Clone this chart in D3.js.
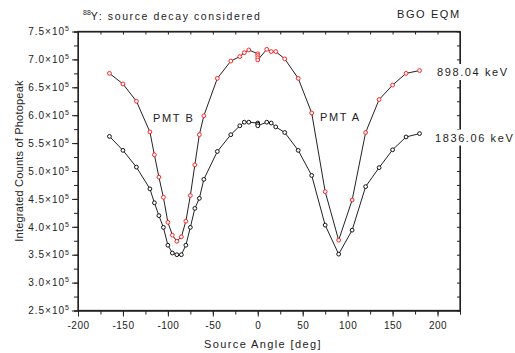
<!DOCTYPE html>
<html>
<head>
<meta charset="utf-8">
<script src="https://cdn.jsdelivr.net/npm/d3@7"></script>
<style>
  body { margin: 0; background: #fff; }
  svg { display: block; font-family: "Liberation Sans", Arial, sans-serif; }
  .axis path, .axis line { stroke: #222; }
  .axis text { fill: #222; }
</style>
</head>
<body>
<div id="chart"></div>
<script>
// angles [deg] and integrated photopeak counts [x10^5]
const angles898 = [-165, -150, -135, -120, -115, -110, -105, -100, -95, -90, -85, -80, -75, -70, -65, -60,
  -45, -30, -20, -15, -10, 0, 0, 0, 0, 10, 15, 20, 30, 45, 60, 75, 90, 105, 120, 135, 150, 165, 180];
const counts898 = [6.75, 6.56, 6.25, 5.70, 5.29, 4.89, 4.53, 4.08, 3.85, 3.74, 3.82, 4.10, 4.56, 5.11, 5.65, 5.99,
  6.66, 6.97, 7.05, 7.12, 7.17, 7.10, 7.07, 7.03, 6.99, 7.18, 7.14, 7.14, 7.01, 6.66, 6.04, 4.63, 3.76, 4.48, 5.69, 6.28, 6.54, 6.75, 6.80];

const angles1836 = [-165, -150, -135, -120, -115, -110, -105, -100, -95, -90, -85, -80, -75, -70, -65, -60,
  -45, -30, -20, -15, -10, 0, 0, 0, 10, 15, 20, 30, 45, 60, 75, 90, 105, 120, 135, 150, 165, 180];
const counts1836 = [5.62, 5.37, 5.07, 4.68, 4.43, 4.20, 3.99, 3.67, 3.53, 3.50, 3.50, 3.67, 3.99, 4.33, 4.51, 4.85,
  5.35, 5.65, 5.81, 5.875, 5.875, 5.86, 5.84, 5.81, 5.875, 5.86, 5.79, 5.69, 5.37, 4.92, 4.03, 3.51, 3.94, 4.72, 5.06, 5.38, 5.61, 5.67];

const xMajorTicks = [-200, -150, -100, -50, 0, 50, 100, 150, 200];
const yMajorTicks = [2.5, 3.0, 3.5, 4.0, 4.5, 5.0, 5.5, 6.0, 6.5, 7.0, 7.5];

const series = [
  {name: '898.04 keV', angles: angles898, counts: counts898, color: '#ff2020'},
  {name: '1836.06 keV', angles: angles1836, counts: counts1836, color: '#111'}
];

const width = 515;
const height = 353;
const margin = {top: 31.5, right: 55, bottom: 42.5, left: 78};

const svg = d3.select('#chart')
  .append('svg')
  .attr('width', width)
  .attr('height', height);

const x = d3.scaleLinear()
  .domain([-200, 225])
  .range([margin.left, width - margin.right]);

const y = d3.scaleLinear()
  .domain([2.5, 7.5])
  .range([height - margin.bottom, margin.top]);

const xMinor = d3.range(-200, 226, 25);
const yMinor = d3.range(2.5, 7.51, 0.25);

// minor ticks on every side
svg.append('g').attr('class', 'axis')
  .attr('transform', 'translate(0,' + y.range()[0] + ')')
  .call(d3.axisBottom(x).tickValues(xMinor).tickSize(4).tickFormat(''));
svg.append('g').attr('class', 'axis')
  .attr('transform', 'translate(0,' + y.range()[1] + ')')
  .call(d3.axisBottom(x).tickValues(xMinor).tickSize(3).tickSizeOuter(0).tickFormat(''));
svg.append('g').attr('class', 'axis')
  .attr('transform', 'translate(' + x.range()[0] + ',0)')
  .call(d3.axisLeft(y).tickValues(yMinor).tickSize(4).tickFormat(''));
svg.append('g').attr('class', 'axis')
  .attr('transform', 'translate(' + x.range()[1] + ',0)')
  .call(d3.axisLeft(y).tickValues(yMinor).tickSize(3).tickSizeOuter(0).tickFormat(''));

// major ticks with labels
const xAxis = svg.append('g').attr('class', 'axis')
  .attr('transform', 'translate(0,' + y.range()[0] + ')')
  .call(d3.axisBottom(x).tickValues(xMajorTicks).tickSize(6).tickSizeOuter(0).tickPadding(5)
    .tickFormat(d => d < 0 ? '-' + Math.abs(d) : d));
xAxis.selectAll('text')
  .attr('font-size', '10px')
  .style('letter-spacing', '0.5px');

const yAxis = svg.append('g').attr('class', 'axis')
  .attr('transform', 'translate(' + x.range()[0] + ',0)')
  .call(d3.axisLeft(y).tickValues(yMajorTicks).tickSize(6).tickSizeOuter(0).tickPadding(2));
yAxis.selectAll('.tick text')
  .attr('font-size', '10px')
  .style('letter-spacing', '1px')
  .each(function (d) {
    const t = d3.select(this);
    t.text(null);
    t.append('tspan').text(d.toFixed(1) + '×10');
    t.append('tspan').attr('dy', '-0.55em').attr('font-size', '7px').text('5');
  });

// frame
svg.append('rect')
  .attr('x', x.range()[0])
  .attr('y', y.range()[1])
  .attr('width', x.range()[1] - x.range()[0])
  .attr('height', y.range()[0] - y.range()[1])
  .attr('fill', 'none')
  .attr('stroke', '#222')
  .attr('stroke-width', 1.3);

const line = d3.line()
  .x(d => x(d[0]))
  .y(d => y(d[1]));

series.forEach(s => {
  const pts = s.angles.map((a, i) => [a, s.counts[i]]);
  svg.append('path')
    .datum(pts)
    .attr('fill', 'none')
    .attr('stroke', '#222')
    .attr('stroke-width', 1)
    .attr('d', line);
  svg.append('g')
    .selectAll('circle')
    .data(pts)
    .enter()
    .append('circle')
    .attr('cx', d => x(d[0]))
    .attr('cy', d => y(d[1]))
    .attr('r', 1.9)
    .attr('fill', '#fff')
    .attr('stroke', s.color)
    .attr('stroke-width', 1);
});

// texts (labels sit on white boxes, like the original text objects)
const label = (tx, ty, txt, size, ls) => {
  const g = svg.append('g');
  const t = g.append('text')
    .attr('x', tx)
    .attr('y', ty)
    .attr('font-size', size + 'px')
    .style('letter-spacing', ls + 'px')
    .attr('fill', '#222')
    .text(txt);
  const bb = t.node().getBBox();
  g.insert('rect', 'text')
    .attr('x', bb.x - 2)
    .attr('y', bb.y - 2)
    .attr('width', bb.width + 4)
    .attr('height', bb.height + 4)
    .attr('fill', '#fff');
  return t;
};

const title = svg.append('text')
  .attr('x', 83)
  .attr('y', 20)
  .attr('font-size', '10.5px')
  .style('letter-spacing', '1.6px')
  .attr('fill', '#222');
title.append('tspan').attr('font-size', '7px').attr('dy', -5).style('letter-spacing', '0px').text('88');
title.append('tspan').attr('dy', 5).text('Y: source decay considered');

label(397, 18, 'BGO EQM', 11, 1.6);
label(437, 76, series[0].name, 11, 1.6);
label(435, 141.5, series[1].name, 11, 1.6);
label(153, 122, 'PMT B', 11, 1.6);
label(320, 121, 'PMT A', 11, 1.6);

svg.append('text')
  .attr('x', 263)
  .attr('y', 348)
  .attr('text-anchor', 'middle')
  .attr('font-size', '11px')
  .style('letter-spacing', '1.4px')
  .attr('fill', '#222')
  .text('Source Angle [deg]');

svg.append('text')
  .attr('transform', 'translate(22.5,161) rotate(-90)')
  .attr('text-anchor', 'middle')
  .attr('font-size', '11px')
  .style('letter-spacing', '0.2px')
  .attr('fill', '#222')
  .text('Integrated Counts of Photopeak');
</script>
</body>
</html>
